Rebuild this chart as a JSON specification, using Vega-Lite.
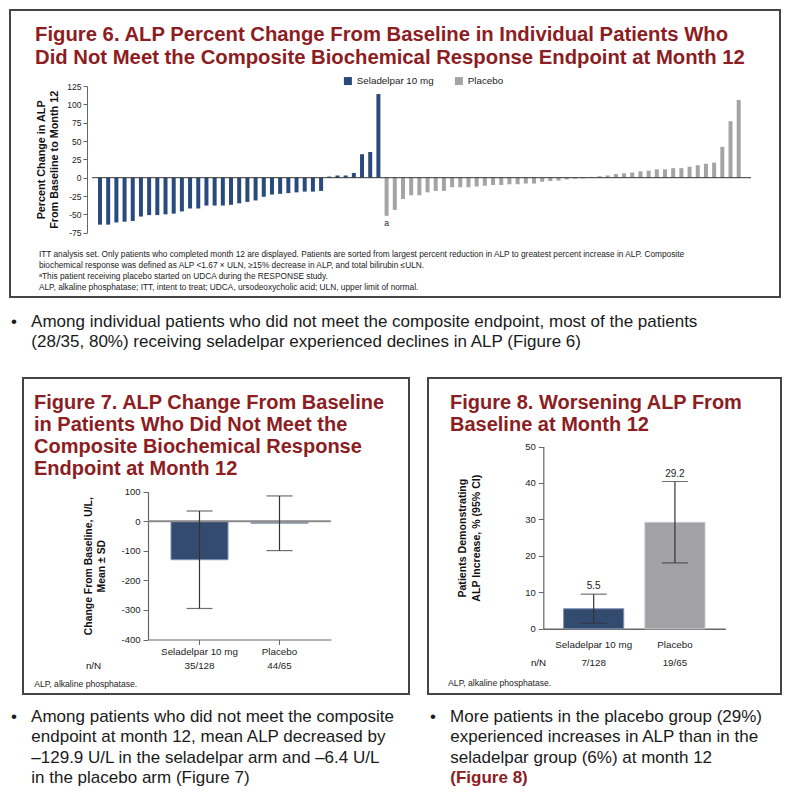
{
  "$schema": "https://vega.github.io/schema/vega-lite/v6.json",
  "background": "white",
  "padding": {"left": 9, "top": 9, "right": 5, "bottom": 5},
  "config": {
    "view": {"stroke": "#454545", "strokeWidth": 2},
    "font": "Liberation Sans",
    "axis": {"labelFont": "Liberation Sans", "titleFont": "Liberation Sans", "grid": false, "labelColor": "#222", "titleColor": "#111", "domainColor": "#666", "tickColor": "#666", "labelOverlap": false, "tickCount": 20, "labelExpr": "replace(datum.label, '−', '-')"}
  },
  "resolve": {"scale": {"color": "independent"}, "legend": {"color": "independent"}},
  "spacing": 14,
  "vconcat": [
    {
      "width": 770,
      "height": 287,
      "title": {
        "text": ["Figure 6. ALP Percent Change From Baseline in Individual Patients Who", "Did Not Meet the Composite Biochemical Response Endpoint at Month 12"],
        "anchor": "start", "frame": "group", "offset": -58.5, "dx": 25,
        "font": "Liberation Sans", "fontSize": 20.3, "fontWeight": "bold", "color": "#8C1D22", "lineHeight": 23.5
      },
      "data": {"values": [
        {"rank": 1, "group": "Seladelpar 10 mg", "pct": -64},
        {"rank": 2, "group": "Seladelpar 10 mg", "pct": -64},
        {"rank": 3, "group": "Seladelpar 10 mg", "pct": -61},
        {"rank": 4, "group": "Seladelpar 10 mg", "pct": -60},
        {"rank": 5, "group": "Seladelpar 10 mg", "pct": -59},
        {"rank": 6, "group": "Seladelpar 10 mg", "pct": -53},
        {"rank": 7, "group": "Seladelpar 10 mg", "pct": -51},
        {"rank": 8, "group": "Seladelpar 10 mg", "pct": -51},
        {"rank": 9, "group": "Seladelpar 10 mg", "pct": -50},
        {"rank": 10, "group": "Seladelpar 10 mg", "pct": -49},
        {"rank": 11, "group": "Seladelpar 10 mg", "pct": -46},
        {"rank": 12, "group": "Seladelpar 10 mg", "pct": -42},
        {"rank": 13, "group": "Seladelpar 10 mg", "pct": -42},
        {"rank": 14, "group": "Seladelpar 10 mg", "pct": -38},
        {"rank": 15, "group": "Seladelpar 10 mg", "pct": -38},
        {"rank": 16, "group": "Seladelpar 10 mg", "pct": -38},
        {"rank": 17, "group": "Seladelpar 10 mg", "pct": -37},
        {"rank": 18, "group": "Seladelpar 10 mg", "pct": -35},
        {"rank": 19, "group": "Seladelpar 10 mg", "pct": -33},
        {"rank": 20, "group": "Seladelpar 10 mg", "pct": -31},
        {"rank": 21, "group": "Seladelpar 10 mg", "pct": -26},
        {"rank": 22, "group": "Seladelpar 10 mg", "pct": -23},
        {"rank": 23, "group": "Seladelpar 10 mg", "pct": -22},
        {"rank": 24, "group": "Seladelpar 10 mg", "pct": -21},
        {"rank": 25, "group": "Seladelpar 10 mg", "pct": -20},
        {"rank": 26, "group": "Seladelpar 10 mg", "pct": -19},
        {"rank": 27, "group": "Seladelpar 10 mg", "pct": -19},
        {"rank": 28, "group": "Seladelpar 10 mg", "pct": -18},
        {"rank": 29, "group": "Seladelpar 10 mg", "pct": 1.5},
        {"rank": 30, "group": "Seladelpar 10 mg", "pct": 3},
        {"rank": 31, "group": "Seladelpar 10 mg", "pct": 3},
        {"rank": 32, "group": "Seladelpar 10 mg", "pct": 6.5},
        {"rank": 33, "group": "Seladelpar 10 mg", "pct": 32},
        {"rank": 34, "group": "Seladelpar 10 mg", "pct": 35},
        {"rank": 35, "group": "Seladelpar 10 mg", "pct": 114},
        {"rank": 36, "group": "Placebo", "pct": -52, "note": "a"},
        {"rank": 37, "group": "Placebo", "pct": -44},
        {"rank": 38, "group": "Placebo", "pct": -29},
        {"rank": 39, "group": "Placebo", "pct": -24},
        {"rank": 40, "group": "Placebo", "pct": -24},
        {"rank": 41, "group": "Placebo", "pct": -20},
        {"rank": 42, "group": "Placebo", "pct": -18},
        {"rank": 43, "group": "Placebo", "pct": -18},
        {"rank": 44, "group": "Placebo", "pct": -13},
        {"rank": 45, "group": "Placebo", "pct": -13},
        {"rank": 46, "group": "Placebo", "pct": -13},
        {"rank": 47, "group": "Placebo", "pct": -12},
        {"rank": 48, "group": "Placebo", "pct": -11},
        {"rank": 49, "group": "Placebo", "pct": -10},
        {"rank": 50, "group": "Placebo", "pct": -10},
        {"rank": 51, "group": "Placebo", "pct": -9},
        {"rank": 52, "group": "Placebo", "pct": -9},
        {"rank": 53, "group": "Placebo", "pct": -8},
        {"rank": 54, "group": "Placebo", "pct": -8},
        {"rank": 55, "group": "Placebo", "pct": -5.5},
        {"rank": 56, "group": "Placebo", "pct": -4.5},
        {"rank": 57, "group": "Placebo", "pct": -4},
        {"rank": 58, "group": "Placebo", "pct": -2.3},
        {"rank": 59, "group": "Placebo", "pct": -1.4},
        {"rank": 60, "group": "Placebo", "pct": -1},
        {"rank": 61, "group": "Placebo", "pct": 1},
        {"rank": 62, "group": "Placebo", "pct": 2},
        {"rank": 63, "group": "Placebo", "pct": 3},
        {"rank": 64, "group": "Placebo", "pct": 5},
        {"rank": 65, "group": "Placebo", "pct": 6},
        {"rank": 66, "group": "Placebo", "pct": 7},
        {"rank": 67, "group": "Placebo", "pct": 8.7},
        {"rank": 68, "group": "Placebo", "pct": 9.6},
        {"rank": 69, "group": "Placebo", "pct": 11.4},
        {"rank": 70, "group": "Placebo", "pct": 11.4},
        {"rank": 71, "group": "Placebo", "pct": 13},
        {"rank": 72, "group": "Placebo", "pct": 13},
        {"rank": 73, "group": "Placebo", "pct": 15},
        {"rank": 74, "group": "Placebo", "pct": 17},
        {"rank": 75, "group": "Placebo", "pct": 19},
        {"rank": 76, "group": "Placebo", "pct": 20.5},
        {"rank": 77, "group": "Placebo", "pct": 42},
        {"rank": 78, "group": "Placebo", "pct": 77},
        {"rank": 79, "group": "Placebo", "pct": 106}
      ]},
      "layer": [
        {
          "mark": {"type": "bar", "width": 4},
          "encoding": {
            "x": {"field": "rank", "type": "quantitative", "scale": {"domain": [1, 79], "range": [85, 733.7], "nice": false, "zero": false}, "axis": null},
            "y": {"field": "pct", "type": "quantitative",
              "scale": {"domain": [-75, 125], "range": [222.7, 76], "nice": false},
              "axis": {"orient": "left", "offset": -77, "values": [-75, -50, -25, 0, 25, 50, 75, 100, 125], "tickCount": 20, "labelOverlap": false,
                "title": ["Percent Change in ALP", "From Baseline to Month 12"], "titleFontSize": 10.8, "titleFontWeight": "bold", "titleLineHeight": 12.8, "titlePadding": 7.5,
                "labelFontSize": 8.5, "tickSize": 4, "labelPadding": 2}},
            "y2": {"datum": 0},
            "color": {"field": "group", "type": "nominal",
              "scale": {"domain": ["Seladelpar 10 mg", "Placebo"], "range": ["#284A7C", "#A4A4A4"]},
              "legend": {"orient": "none", "legendX": 333, "legendY": 66, "direction": "horizontal", "title": null, "symbolType": "square", "symbolSize": 64, "symbolStrokeWidth": 0, "labelFontSize": 9.8, "labelFont": "Liberation Sans", "labelOffset": 4, "columnPadding": 20, "padding": 0, "labelColor": "#222"}}
          }
        },
        {
          "data": {"values": [{}]},
          "mark": {"type": "rule", "color": "#333", "strokeWidth": 1},
          "encoding": {"x": {"datum": 0.04}, "x2": {"datum": 80.5}, "y": {"datum": 0}}
        },
        {
          "transform": [{"filter": "datum.note"}],
          "mark": {"type": "text", "baseline": "top", "dy": 3, "fontSize": 8.5, "color": "#222"},
          "encoding": {"x": {"field": "rank", "type": "quantitative"}, "y": {"field": "pct", "type": "quantitative"}, "text": {"field": "note"}}
        },
        {
          "data": {"values": [{}]},
          "mark": {"type": "text", "align": "left", "baseline": "top", "fontSize": 8.3, "lineHeight": 11, "font": "Liberation Sans", "color": "#222"},
          "encoding": {
            "x": {"datum": -6.46}, "y": {"datum": -98},
            "text": {"value": ["ITT analysis set. Only patients who completed month 12 are displayed. Patients are sorted from largest percent reduction in ALP to greatest percent increase in ALP. Composite", "biochemical response was defined as ALP <1.67 × ULN, ≥15% decrease in ALP, and total bilirubin ≤ULN.", "ᵃThis patient receiving placebo started on UDCA during the RESPONSE study.", "ALP, alkaline phosphatase; ITT, intent to treat; UDCA, ursodeoxycholic acid; ULN, upper limit of normal."]}
          }
        }
      ]
    },
    {
      "title": {
        "text": ["•\u00a0\u00a0\u00a0Among individual patients who did not meet the composite endpoint, most of the patients", "\u200b\u00a0\u00a0\u00a0\u00a0\u200a(28/35, 80%) receiving seladelpar experienced declines in ALP (Figure 6)"],
        "orient": "top", "anchor": "start", "frame": "group", "offset": 22, "dx": 1,
        "font": "Liberation Sans", "fontSize": 17, "fontWeight": "normal", "color": "#1a1a1a", "lineHeight": 20
      },
      "spacing": 0,
      "resolve": {"scale": {"color": "independent"}, "legend": {"color": "independent"}},
      "hconcat": [
        {
          "width": 1,
          "height": 1,
          "view": {"stroke": null},
          "data": {"values": [{}]},
          "mark": {"type": "text", "text": ""},
          "encoding": {}
        },
        {
          "spacing": 17,
          "resolve": {"scale": {"color": "independent"}, "legend": {"color": "independent"}},
          "hconcat": [
            {
              "title": {
                "text": ["•\u00a0\u00a0\u00a0Among patients who did not meet the composite", "\u200b\u00a0\u00a0\u00a0\u00a0\u200aendpoint at month 12, mean ALP decreased by", "\u200b\u00a0\u00a0\u00a0\u00a0\u200a–129.9 U/L in the seladelpar arm and –6.4 U/L", "\u200b\u00a0\u00a0\u00a0\u00a0\u200ain the placebo arm (Figure 7)"],
                "orient": "bottom", "anchor": "start", "frame": "group", "offset": 13.5, "dx": -12,
                "font": "Liberation Sans", "fontSize": 17, "fontWeight": "normal", "color": "#1a1a1a", "lineHeight": 20.5
              },
              "vconcat": [
                {
                  "width": 386,
                  "height": 316,
                  "title": {
                    "text": ["Figure 7. ALP Change From Baseline", "in Patients Who Did Not Meet the", "Composite Biochemical Response", "Endpoint at Month 12"],
                    "anchor": "start", "frame": "group", "offset": -100.7, "dx": 11,
                    "font": "Liberation Sans", "fontSize": 20, "fontWeight": "bold", "color": "#8C1D22", "lineHeight": 22
                  },
                  "data": {"values": [
                    {"group": "Seladelpar 10 mg", "mean": -129.9, "lo": -295, "hi": 35, "nN": "35/128"},
                    {"group": "Placebo", "mean": -6.4, "lo": -99, "hi": 86, "nN": "44/65"}
                  ]},
                  "resolve": {"scale": {"x": "independent"}},
                  "layer": [
                    {
                      "layer": [
                        {
                          "mark": {"type": "bar", "stroke": "#7F90B2", "strokeWidth": 1},
                          "encoding": {
                            "x": {"field": "group", "type": "nominal", "sort": null,
                              "scale": {"range": [125, 308], "paddingInner": 0.2875, "paddingOuter": 0.2875},
                              "axis": {"orient": "bottom", "offset": -54.5, "labelAngle": 0, "labelFontSize": 9.8, "tickSize": 5, "labelPadding": 1.5, "domainWidth": 1.2,
                                "title": "n/N", "titleFontSize": 9.8, "titleFontWeight": "normal", "titleX": 70, "titleY": 26, "titleAlign": "center", "titleBaseline": "middle"}},
                            "y": {"field": "mean", "type": "quantitative",
                              "scale": {"domain": [-400, 100], "range": [261.5, 113.8], "nice": false},
                              "axis": {"orient": "left", "offset": -125, "values": [-400, -300, -200, -100, 0, 100], "labelOverlap": false,
                                "title": ["Change From Baseline, U/L,", "Mean ± SD"], "titleFontSize": 10.4, "titleFontWeight": "bold", "titleLineHeight": 13.3, "titlePadding": 14,
                                "labelFontSize": 9.5, "tickSize": 5, "labelPadding": 3, "domainWidth": 1.2}},
                            "y2": {"datum": 0},
                            "color": {"field": "group", "type": "nominal", "scale": {"domain": ["Seladelpar 10 mg", "Placebo"], "range": ["#344B70", "#A2A1A5"]}, "legend": null}
                          }
                        },
                        {
                          "data": {"values": [{}]},
                          "mark": {"type": "rule", "color": "#8A8A8A", "strokeWidth": 2},
                          "encoding": {
                            "x": {"datum": "Seladelpar 10 mg", "bandPosition": -0.4},
                            "x2": {"datum": "Placebo", "bandPosition": 1.4},
                            "y": {"datum": 0}
                          }
                        },
                        {
                          "mark": {"type": "rule", "color": "#333", "strokeWidth": 1.2},
                          "encoding": {"x": {"field": "group", "type": "nominal", "sort": null}, "y": {"field": "lo", "type": "quantitative"}, "y2": {"field": "hi"}}
                        },
                        {
                          "mark": {"type": "tick", "size": 26, "thickness": 1.2, "color": "#333"},
                          "encoding": {"x": {"field": "group", "type": "nominal", "sort": null}, "y": {"field": "hi", "type": "quantitative"}}
                        },
                        {
                          "mark": {"type": "tick", "size": 26, "thickness": 1.2, "color": "#333"},
                          "encoding": {"x": {"field": "group", "type": "nominal", "sort": null}, "y": {"field": "lo", "type": "quantitative"}}
                        },
                        {
                          "mark": {"type": "text", "baseline": "middle", "fontSize": 9.8, "font": "Liberation Sans", "color": "#222"},
                          "encoding": {"x": {"field": "group", "type": "nominal", "sort": null}, "y": {"datum": -490}, "text": {"field": "nN"}}
                        }
                      ]
                    },
                    {
                      "data": {"values": [{}]},
                      "mark": {"type": "text", "align": "left", "baseline": "middle", "fontSize": 8.6, "font": "Liberation Sans", "color": "#222"},
                      "encoding": {
                        "x": {"datum": 0.029, "type": "quantitative", "scale": {"domain": [0, 1]}, "axis": null},
                        "y": {"datum": -552},
                        "text": {"value": "ALP, alkaline phosphatase."}
                      }
                    }
                  ]
                }
              ]
            },
            {
              "title": {
                "text": ["•\u00a0\u00a0\u00a0More patients in the placebo group (29%)", "\u200b\u00a0\u00a0\u00a0\u00a0\u200aexperienced increases in ALP than in the", "\u200b\u00a0\u00a0\u00a0\u00a0\u200aseladelpar group (6%) at month 12"],
                "subtitle": "\u200b\u00a0\u00a0\u00a0\u00a0\u200a(Figure 8)",
                "subtitleColor": "#8C1D22", "subtitleFontSize": 17, "subtitleFont": "Liberation Sans", "subtitleFontWeight": "bold", "subtitlePadding": 3.5,
                "orient": "bottom", "anchor": "start", "frame": "group", "offset": 13.5, "dx": 2,
                "font": "Liberation Sans", "fontSize": 17, "fontWeight": "normal", "color": "#1a1a1a", "lineHeight": 20.5
              },
              "vconcat": [
                {
                  "width": 353,
                  "height": 316,
                  "title": {
                    "text": ["Figure 8. Worsening ALP From", "Baseline at Month 12"],
                    "anchor": "start", "frame": "group", "offset": -56.5, "dx": 22,
                    "font": "Liberation Sans", "fontSize": 20, "fontWeight": "bold", "color": "#8C1D22", "lineHeight": 22
                  },
                  "data": {"values": [
                    {"group": "Seladelpar 10 mg", "pct": 5.5, "lo": 1.5, "hi": 9.5, "nN": "7/128"},
                    {"group": "Placebo", "pct": 29.2, "lo": 18.1, "hi": 40.4, "nN": "19/65"}
                  ]},
                  "resolve": {"scale": {"x": "independent"}},
                  "layer": [
                    {
                      "layer": [
                        {
                          "mark": {"type": "bar", "strokeWidth": 1},
                          "encoding": {
                            "x": {"field": "group", "type": "nominal", "sort": null,
                              "scale": {"range": [115.3, 297.3], "paddingInner": 0.26, "paddingOuter": 0.25},
                              "axis": {"orient": "bottom", "offset": -65.2, "labelAngle": 0, "labelFontSize": 9.8, "tickSize": 0, "labelPadding": 11, "domainWidth": 1.5,
                                "title": "n/N", "titleFontSize": 9.8, "titleFontWeight": "normal", "titleX": 110, "titleY": 34, "titleAlign": "center", "titleBaseline": "middle"}},
                            "y": {"field": "pct", "type": "quantitative",
                              "scale": {"domain": [0, 50], "range": [250.8, 68.5], "nice": false},
                              "axis": {"orient": "left", "offset": -115.3, "values": [0, 10, 20, 30, 40, 50], "labelOverlap": false,
                                "title": ["Patients Demonstrating", "ALP Increase, % (95% CI)"], "titleFontSize": 10.6, "titleFontWeight": "bold", "titleLineHeight": 14, "titlePadding": 43,
                                "labelFontSize": 9.5, "tickSize": 5, "labelPadding": 3, "domainWidth": 1.2}},
                            "color": {"field": "group", "type": "nominal", "scale": {"domain": ["Seladelpar 10 mg", "Placebo"], "range": ["#344B70", "#A2A1A5"]}, "legend": null},
                            "stroke": {"field": "group", "type": "nominal", "scale": {"domain": ["Seladelpar 10 mg", "Placebo"], "range": ["#7F90B2", "#C9C9CB"]}, "legend": null}
                          }
                        },
                        {
                          "mark": {"type": "rule", "color": "#333", "strokeWidth": 1.2},
                          "encoding": {"x": {"field": "group", "type": "nominal", "sort": null}, "y": {"field": "lo", "type": "quantitative"}, "y2": {"field": "hi"}}
                        },
                        {
                          "mark": {"type": "tick", "size": 26, "thickness": 1.2, "color": "#333"},
                          "encoding": {"x": {"field": "group", "type": "nominal", "sort": null}, "y": {"field": "hi", "type": "quantitative"}}
                        },
                        {
                          "mark": {"type": "tick", "size": 26, "thickness": 1.2, "color": "#333"},
                          "encoding": {"x": {"field": "group", "type": "nominal", "sort": null}, "y": {"field": "lo", "type": "quantitative"}}
                        },
                        {
                          "mark": {"type": "text", "baseline": "bottom", "dy": -3, "fontSize": 10, "font": "Liberation Sans", "color": "#222"},
                          "encoding": {"x": {"field": "group", "type": "nominal", "sort": null}, "y": {"field": "hi", "type": "quantitative"}, "text": {"field": "pct", "type": "quantitative", "format": ".1f"}}
                        },
                        {
                          "mark": {"type": "text", "baseline": "middle", "fontSize": 9.8, "font": "Liberation Sans", "color": "#222"},
                          "encoding": {"x": {"field": "group", "type": "nominal", "sort": null}, "y": {"datum": -9.4}, "text": {"field": "nN"}}
                        }
                      ]
                    },
                    {
                      "data": {"values": [{}]},
                      "mark": {"type": "text", "align": "left", "baseline": "middle", "fontSize": 8.6, "font": "Liberation Sans", "color": "#222"},
                      "encoding": {
                        "x": {"datum": 0.057, "type": "quantitative", "scale": {"domain": [0, 1]}, "axis": null},
                        "y": {"datum": -15},
                        "text": {"value": "ALP, alkaline phosphatase."}
                      }
                    }
                  ]
                }
              ]
            }
          ]
        }
      ]
    }
  ]
}
